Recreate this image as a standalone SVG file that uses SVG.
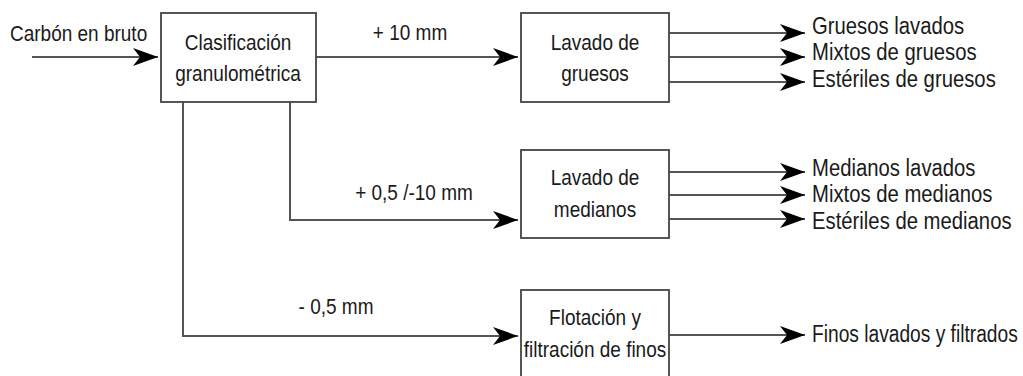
<svg xmlns="http://www.w3.org/2000/svg" width="1023" height="376" viewBox="0 0 1023 376">
<style>
text{font-family:"Liberation Sans",Arial,sans-serif;font-size:19px;fill:#1a1a1a}
.c{text-anchor:middle}
.o{font-size:20.3px}
.f{font-size:19.2px}
.box{fill:#fff;stroke:#444;stroke-width:1.8}
.ln{fill:none;stroke:#555;stroke-width:2}
</style>
<defs>
<marker id="ah" markerUnits="userSpaceOnUse" markerWidth="28" markerHeight="20" refX="25" refY="9" orient="auto">
<path d="M0,0 L25,9 L0,18 L7,9 Z" fill="#000"/>
</marker>
</defs>
<rect width="1023" height="376" fill="#fff"/>
<g id="connectors">
<path class="ln" d="M32,57 H158" marker-end="url(#ah)"/>
<path class="ln" d="M316,57 H518" marker-end="url(#ah)"/>
<path class="ln" d="M290,102 V220 H518" marker-end="url(#ah)"/>
<path class="ln" d="M183,102 V336 H518" marker-end="url(#ah)"/>
<path class="ln" d="M669,33 H805" marker-end="url(#ah)"/>
<path class="ln" d="M669,57 H805" marker-end="url(#ah)"/>
<path class="ln" d="M669,82 H805" marker-end="url(#ah)"/>
<path class="ln" d="M669,172 H805" marker-end="url(#ah)"/>
<path class="ln" d="M669,195 H805" marker-end="url(#ah)"/>
<path class="ln" d="M669,219 H805" marker-end="url(#ah)"/>
<path class="ln" d="M669,335 H805" marker-end="url(#ah)"/>
</g>
<g id="input-label"><text transform="translate(10,41) scale(1,1.2)">Carbón en bruto</text></g>
<g id="node-clasificacion">
<rect class="box" x="161" y="13" width="155" height="89"/>
<text class="c" transform="translate(238,50) scale(1,1.2)">Clasificación</text>
<text class="c" transform="translate(238,81) scale(1,1.2)">granulométrica</text>
</g>
<g id="label-10"><text class="c" transform="translate(410,40) scale(1,1.2)">+ 10 mm</text></g>
<g id="label-05-10"><text class="c" transform="translate(414,200) scale(1,1.2)">+ 0,5 /-10 mm</text></g>
<g id="label-05"><text class="c" transform="translate(336,314) scale(1,1.2)">- 0,5 mm</text></g>
<g id="node-gruesos">
<rect class="box" x="521" y="13" width="148" height="89"/>
<text class="c" transform="translate(595,50) scale(1,1.2)">Lavado de</text>
<text class="c" transform="translate(595,81) scale(1,1.2)">gruesos</text>
</g>
<g id="node-medianos">
<rect class="box" x="521" y="150" width="148" height="88"/>
<text class="c" transform="translate(595,185) scale(1,1.2)">Lavado de</text>
<text class="c" transform="translate(595,217) scale(1,1.2)">medianos</text>
</g>
<g id="node-flotacion">
<rect class="box" x="521" y="290" width="148" height="100"/>
<text class="c" transform="translate(595,325) scale(1,1.2)">Flotación y</text>
<text class="c" transform="translate(595,357) scale(1,1.2)">filtración de finos</text>
</g>
<g id="outputs">
<text class="o" transform="translate(812,34) scale(1,1.15)">Gruesos lavados</text>
<text class="o" transform="translate(812,60) scale(1,1.15)">Mixtos de gruesos</text>
<text class="o" transform="translate(812,87) scale(1,1.15)">Estériles de gruesos</text>
<text class="o" transform="translate(812,176) scale(1,1.15)">Medianos lavados</text>
<text class="o" transform="translate(812,202) scale(1,1.15)">Mixtos de medianos</text>
<text class="o" transform="translate(812,229) scale(1,1.15)">Estériles de medianos</text>
<text class="f" transform="translate(812,342) scale(1,1.2)">Finos lavados y filtrados</text>
</g>
</svg>
